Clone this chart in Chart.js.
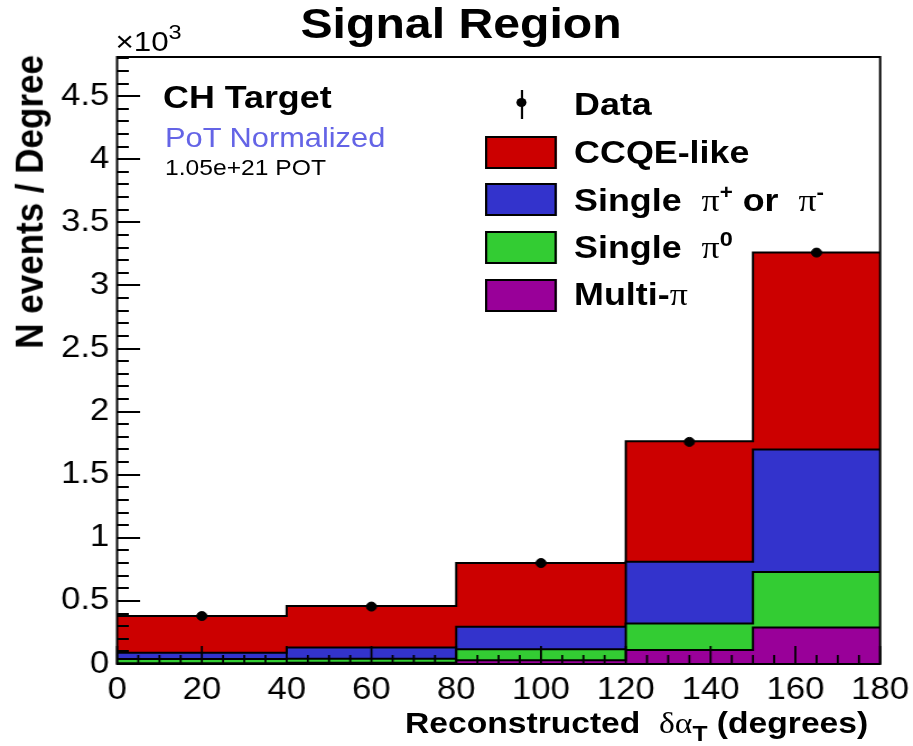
<!DOCTYPE html>
<html>
<head>
<meta charset="utf-8">
<script src="https://cdn.jsdelivr.net/npm/chart.js@4.4.0/dist/chart.umd.min.js"></script>
<style>
  html, body { margin: 0; padding: 0; background: #fff; overflow: hidden; }
  /* ROOT canvas looks horizontally stretched, so draw narrow and stretch */
  #wrap { position: absolute; left: 0; top: 0; width: 815px; height: 746px;
          transform-origin: 0 0; transform: scaleX(1.1202);
          font-family: 'Liberation Sans', Arial, sans-serif; color: #000; }
  #wrap canvas { position: absolute; left: 0; top: 0; }
  .t { position: absolute; white-space: nowrap; line-height: 1; }
  .b { font-weight: bold; }
  .gr { font-family: 'Liberation Serif', 'DejaVu Serif', serif; font-weight: normal; }
  .box { position: absolute; left: 433px; width: 60px; height: 29px; border: 2px solid #000; }
  sup, sub { line-height: 0; }
</style>
</head>
<body>
<div id="wrap">
  <canvas id="histo" width="815" height="746"></canvas>

  <div class="t b" style="font-size:43px; left:411.6px; top:2px; transform:translateX(-50%);">Signal Region</div>
  <div class="t" style="font-size:28px; left:103px; top:28px;">&times;10<sup style="font-size:21px; vertical-align:12px;">3</sup></div>

  <div class="t b" style="font-size:32px; left:145.5px; top:81px;">CH Target</div>
  <div class="t" style="font-size:27.5px; left:147.3px; top:124px; color:#6464e6;">PoT Normalized</div>
  <div class="t" style="font-size:22px; left:147.3px; top:157px;">1.05e+21 POT</div>

  <!-- legend -->
  <div style="position:absolute; left:464.8px; top:90px; width:2px; height:29px; background:#000;"></div>
  <div style="position:absolute; left:461.3px; top:97.5px; width:9px; height:9px; border-radius:50%; background:#000;"></div>
  <div class="box" style="top:136px; background:#cc0000;"></div>
  <div class="box" style="top:183px; background:#3333cc;"></div>
  <div class="box" style="top:231px; background:#33cc33;"></div>
  <div class="box" style="top:279px; background:#990099;"></div>
  <div class="t b" style="font-size:32px; left:512.5px; top:88px;">Data</div>
  <div class="t b" style="font-size:32px; left:512.5px; top:136px;">CCQE-like</div>
  <div class="t b" style="font-size:32px; left:512.5px; top:184px;">Single &nbsp;<span class="gr">&pi;</span><sup style="font-size:20px; vertical-align:12px;">+</sup> or &nbsp;<span class="gr">&pi;</span><sup style="font-size:20px; vertical-align:12px;">-</sup></div>
  <div class="t b" style="font-size:32px; left:512.5px; top:231px;">Single &nbsp;<span class="gr">&pi;</span><sup style="font-size:21px; vertical-align:12px;">0</sup></div>
  <div class="t b" style="font-size:32px; left:512.5px; top:278px;">Multi-<span class="gr">&pi;</span></div>

  <!-- axis titles -->
  <div class="t b" style="font-size:30px; right:40px; top:708px;">Reconstructed &nbsp;<span class="gr">&delta;&alpha;</span><sub style="font-size:22px; vertical-align:-8px;">T</sub> (degrees)</div>
  <div class="t b" style="font-size:35px; left:8px; top:55px; transform-origin:0 0; transform:rotate(-90deg) translateX(-100%);">N events / Degree</div>
</div>

<script>
// bin edges in degrees (last bins are 30 wide)
const binEdges = [0, 40, 80, 120, 150, 180];

// stacked MC, events / degree
const ccqeLike        = [290, 330, 505, 955, 1560];
const singlePiCharged = [50, 88, 180, 490, 970];
const singlePi0       = [35, 32, 86, 210, 440];
const multiPi         = [5, 10, 30, 110, 290];

// data points
const dataX = [20, 60, 100, 135, 165];
const dataY = [380, 455, 800, 1760, 3260];

// y tick labels are shown in units of 10^3
const yTickValues = [0, 500, 1000, 1500, 2000, 2500, 3000, 3500, 4000, 4500];
const xTickValues = [0, 20, 40, 60, 80, 100, 120, 140, 160, 180];

const Y_MAX = 4810;
const Y_MAJOR = 500, Y_MINOR = 100;
const X_MAJOR = 20, X_MINOR = 5;

// histogram as a stepped line: one point per left edge, last value repeated at the right edge
function toSteps(values) {
    return binEdges.map((e, i) => ({ x: e, y: values[Math.min(i, values.length - 1)] }));
}

// ROOT style frame + inward tick marks
const rootFrame = {
    id: 'rootFrame',
    afterDatasetsDraw(chart) {
        const { ctx, chartArea: a, scales: { x, y } } = chart;
        ctx.save();
        ctx.strokeStyle = '#000';
        ctx.lineWidth = 2;

        for (let v = 0; v <= Y_MAX; v += Y_MINOR) {
            const py = Math.round(y.getPixelForValue(v));
            const len = v % Y_MAJOR === 0 ? 20.5 : 10.5;
            ctx.beginPath();
            ctx.moveTo(a.left, py);
            ctx.lineTo(a.left + len, py);
            ctx.stroke();
        }

        ctx.lineWidth = 1.8;
        for (let v = 0; v <= 180; v += X_MINOR) {
            const px = x.getPixelForValue(v);
            const len = v % X_MAJOR === 0 ? 18 : 9;
            ctx.beginPath();
            ctx.moveTo(px, a.bottom);
            ctx.lineTo(px, a.bottom - len);
            ctx.stroke();
        }

        ctx.lineWidth = 2;
        ctx.strokeRect(a.left, a.top, a.right - a.left, a.bottom - a.top);
        ctx.restore();
    }
};

Chart.defaults.font.family = "'Liberation Sans', Arial, sans-serif";
Chart.defaults.color = '#000';

const ctx = document.getElementById('histo');

new Chart(ctx, {
    type: 'line',
    data: {
        datasets: [
            { label: 'Multi-pi', data: toSteps(multiPi), backgroundColor: '#990099', fill: 'origin', stack: 'mc' },
            { label: 'Single pi0', data: toSteps(singlePi0), backgroundColor: '#33cc33', fill: '-1', stack: 'mc' },
            { label: 'Single pi+-', data: toSteps(singlePiCharged), backgroundColor: '#3333cc', fill: '-1', stack: 'mc' },
            { label: 'CCQE-like', data: toSteps(ccqeLike), backgroundColor: '#cc0000', fill: '-1', stack: 'mc' },
            {
                type: 'scatter',
                label: 'Data',
                data: dataX.map((x, i) => ({ x: x, y: dataY[i] })),
                stack: 'data',
                showLine: false,
                pointRadius: 4.5,
                pointBackgroundColor: '#000',
                pointBorderColor: '#000',
                order: -1
            }
        ].map(ds => ds.type ? ds : Object.assign(ds, {
            stepped: true,
            borderColor: '#000',
            borderWidth: 2,
            pointRadius: 0
        }))
    },
    options: {
        responsive: false,
        animation: false,
        layout: { padding: { left: 0, top: 57, right: 29.3, bottom: 0 } },
        plugins: {
            legend: { display: false },
            tooltip: { enabled: false },
            title: { display: false }
        },
        scales: {
            x: {
                type: 'linear',
                min: 0,
                max: 180,
                grid: { display: false, drawTicks: false },
                border: { display: false },
                ticks: { font: { size: 31 }, padding: 8, maxRotation: 0 },
                afterBuildTicks(s) { s.ticks = xTickValues.map(v => ({ value: v })); },
                afterFit(s) {
                    s.height = 82;
                    s.paddingLeft = 0;   // keep the frame where the layout padding puts it
                    s.paddingRight = 0;
                }
            },
            y: {
                stacked: true,
                min: 0,
                max: Y_MAX,
                grid: { display: false, drawTicks: false },
                border: { display: false },
                ticks: {
                    font: { size: 31 },
                    padding: 7,
                    callback: v => String(v / 1000)
                },
                afterBuildTicks(s) { s.ticks = yTickValues.map(v => ({ value: v })); },
                afterFit(s) { s.width = 104.5; s.paddingTop = 0; s.paddingBottom = 0; }
            }
        }
    },
    plugins: [rootFrame]
});
</script>
</body>
</html>
